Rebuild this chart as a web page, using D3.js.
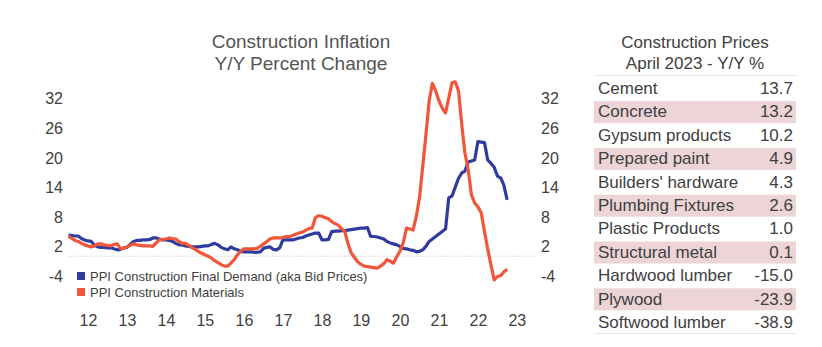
<!DOCTYPE html>
<html>
<head>
<meta charset="utf-8">
<script src="https://cdn.jsdelivr.net/npm/d3@7"></script>
<style>
  body { margin: 0; background: #fff; }
  svg { font-family: "Liberation Sans", Arial, sans-serif; }
</style>
</head>
<body>
<div id="chart"></div>
<script>
// chart data: monthly Y/Y % change, Jan 2012 .. Apr 2023
var startMonth = new Date(2012, 0, 1);

var finalDemand = [
  4.3, 4.2, 4.1, 4.1, 3.6, 3.3, 3.1, 3.0, 2.2, 1.9, 1.8, 1.8,
  1.7, 1.7, 1.5, 1.3, 1.4, 1.7, 1.8, 2.4, 3.0, 3.2, 3.2, 3.3,
  3.3, 3.4, 3.7, 3.7, 3.5, 3.3, 3.3, 3.2, 3.0, 2.6, 2.3, 2.3,
  2.1, 2.0, 1.9, 1.9, 1.9, 2.0, 2.1, 2.1, 2.4, 2.6, 2.3, 1.8,
  1.5, 1.3, 1.9, 1.5, 1.3, 1.0, 0.9, 0.9, 0.9, 0.8, 0.8, 0.9,
  1.6, 1.8, 1.9, 1.4, 1.3, 1.7, 3.3, 3.3, 3.3, 3.3, 3.5, 3.7,
  3.8, 4.1, 4.3, 4.5, 4.7, 4.7, 3.3, 3.3, 3.4, 5.0, 5.1, 5.1,
  5.2, 5.2, 5.3, 5.4, 5.5, 5.6, 5.7, 5.7, 5.8, 4.0, 4.0, 3.9,
  3.7, 3.5, 3.0, 2.7, 2.5, 2.3, 2.0, 1.6, 1.5, 1.3, 1.2, 0.9,
  1.0, 1.3, 2.0, 3.0, 3.5, 4.0, 4.5, 5.0, 5.5, 11.8, 12.2, 14.0,
  15.8, 16.9, 17.2, 19.1, 19.3, 19.5, 23.2, 23.1, 23.0, 19.5, 18.8, 18.0,
  16.2, 15.8, 14.4, 11.4
];

var materials = [
  4.0, 3.6, 3.2, 3.0, 2.6, 2.3, 2.1, 1.9, 2.1, 2.5, 2.5, 2.3,
  2.2, 2.1, 2.4, 2.5, 1.6, 1.6, 1.9, 2.2, 2.5, 2.3, 2.2, 2.1,
  2.1, 2.1, 2.0, 2.7, 3.3, 3.4, 3.5, 3.7, 3.6, 3.5, 3.0, 2.6,
  2.6, 2.2, 1.8, 1.4, 1.0, 0.6, 0.3, 0.0, -0.4, -0.9, -1.3, -1.7,
  -2.0, -2.0, -1.4, -0.7, 0.3, 1.0, 1.5, 1.5, 1.5, 1.5, 1.6, 2.0,
  2.5, 3.0, 3.5, 3.7, 3.7, 3.7, 3.8, 4.0, 4.0, 4.2, 4.5, 4.7,
  4.9, 5.3, 5.6, 5.7, 7.8, 8.2, 8.1, 7.8, 7.6, 7.0, 6.6, 6.3,
  5.6, 5.0, 2.7, 0.7, -0.2, -1.1, -1.6, -2.0, -2.1, -2.2, -2.3, -2.4,
  -2.0, -1.5, -0.7, -1.0, -1.4, -0.1, 1.0, 2.7, 5.7, 5.5, 5.3, 8.0,
  12.0, 18.5, 24.5, 31.5, 35.0, 33.5, 31.5, 30.0, 29.0, 32.0, 35.1, 35.3,
  33.5, 26.5, 21.0, 17.5, 12.5, 10.8, 10.0, 8.8, 5.0, 1.5, -1.8, -4.8,
  -4.1, -3.9, -3.2, -2.6
];

var seriesNames = ['PPI Construction Final Demand (aka Bid Prices)', 'PPI Construction Materials'];
var yTicks = [-4, 2, 8, 14, 20, 26, 32];
var xYears = [2012, 2013, 2014, 2015, 2016, 2017, 2018, 2019, 2020, 2021, 2022, 2023];

// table data
var tableTitle = ['Construction Prices', 'April 2023 - Y/Y %'];
var itemNames = ['Cement', 'Concrete', 'Gypsum products', 'Prepared paint', "Builders' hardware",
  'Plumbing Fixtures', 'Plastic Products', 'Structural metal', 'Hardwood lumber', 'Plywood', 'Softwood lumber'];
var itemValues = [13.7, 13.2, 10.2, 4.9, 4.3, 2.6, 1.0, 0.1, -15.0, -23.9, -38.9];

// svg size
var svgWidth = 822;
var svgHeight = 347;

var blue = '#2f3c9e';
var red = '#f2553a';
var textColor = '#404040';

var svg = d3.select('#chart')
  .append('svg')
  .attr('width', svgWidth)
  .attr('height', svgHeight);

svg.append('rect')
  .attr('width', svgWidth)
  .attr('height', svgHeight)
  .attr('fill', '#fff');

// scales
var xScale = d3.scaleTime()
  .domain([new Date(2012, 0, 1), new Date(2024, 0, 1)])
  .range([68.5, 536.5]);

var yScale = d3.scaleLinear()
  .domain([-4, 32])
  .range([276, 98.2]);

// title
svg.append('text')
  .attr('x', 301)
  .attr('y', 48)
  .attr('text-anchor', 'middle')
  .style('font-size', '19px')
  .style('fill', '#555')
  .text('Construction Inflation');

svg.append('text')
  .attr('x', 301)
  .attr('y', 70)
  .attr('text-anchor', 'middle')
  .style('font-size', '19px')
  .style('fill', '#555')
  .text('Y/Y Percent Change');

// zero line
svg.append('line')
  .attr('x1', xScale.range()[0])
  .attr('x2', xScale.range()[1])
  .attr('y1', yScale(0))
  .attr('y2', yScale(0))
  .attr('stroke', '#bbb')
  .attr('stroke-width', 1)
  .attr('stroke-dasharray', '1,2');

// left and right axes (plain hyphen for negatives)
var leftAxis = d3.axisLeft(yScale).tickValues(yTicks).tickFormat(String).tickSize(0).tickPadding(0);
var rightAxis = d3.axisRight(yScale).tickValues(yTicks).tickFormat(String).tickSize(0).tickPadding(0);

var gLeft = svg.append('g')
  .attr('transform', 'translate(63, 0)')
  .call(leftAxis);

var gRight = svg.append('g')
  .attr('transform', 'translate(541, 0)')
  .call(rightAxis);

// bottom axis, labels in the middle of each year
var bottomAxis = d3.axisBottom(xScale)
  .tickValues(xYears.map(function(y) { return new Date(y, 6, 1); }))
  .tickFormat(d3.timeFormat('%y'))
  .tickSize(0)
  .tickPadding(0);

var gBottom = svg.append('g')
  .attr('transform', 'translate(0, 314)')
  .call(bottomAxis);

[gLeft, gRight, gBottom].forEach(function(g) {
  g.select('.domain').remove();
  g.selectAll('text')
    .style('font-size', '16px')
    .style('font-family', '"Liberation Sans", Arial, sans-serif')
    .style('fill', textColor);
});
gLeft.selectAll('text').attr('dy', '0.35em');
gRight.selectAll('text').attr('dy', '0.35em');
gBottom.selectAll('text').attr('dy', '0.75em');

// lines
var line = d3.line()
  .x(function(d, i) { return xScale(d3.timeMonth.offset(startMonth, i)); })
  .y(function(d) { return yScale(d); });

svg.append('path')
  .datum(finalDemand)
  .attr('d', line)
  .attr('fill', 'none')
  .attr('stroke', blue)
  .attr('stroke-width', 3.2)
  .attr('stroke-linejoin', 'round');

svg.append('path')
  .datum(materials)
  .attr('d', line)
  .attr('fill', 'none')
  .attr('stroke', red)
  .attr('stroke-width', 3.2)
  .attr('stroke-linejoin', 'round');

// legend
var legend = svg.selectAll('.legend')
  .data(seriesNames)
  .enter()
  .append('g')
  .attr('class', 'legend')
  .attr('transform', function(d, i) { return 'translate(77, ' + (272 + i * 16) + ')'; });

legend.append('rect')
  .attr('width', 8)
  .attr('height', 8)
  .attr('fill', function(d, i) { return i === 0 ? blue : red; });

legend.append('text')
  .attr('x', 13)
  .attr('y', 9)
  .style('font-size', '13px')
  .style('fill', textColor)
  .text(function(d) { return d; });

// table on the right
var tableLeft = 594;
var tableRight = 796;
var rowTop = 77;
var rowH = 23.4;

svg.selectAll('.ttitle')
  .data(tableTitle)
  .enter()
  .append('text')
  .attr('x', 695)
  .attr('y', function(d, i) { return 48 + i * 21; })
  .attr('text-anchor', 'middle')
  .style('font-size', '17px')
  .style('fill', textColor)
  .text(function(d) { return d; });

svg.append('line')
  .attr('x1', tableLeft).attr('x2', tableRight)
  .attr('y1', 75.5).attr('y2', 75.5)
  .attr('stroke', '#e6e6e6');

svg.append('line')
  .attr('x1', tableLeft).attr('x2', tableRight)
  .attr('y1', 333.5).attr('y2', 333.5)
  .attr('stroke', '#e6e6e6');

var rows = svg.selectAll('.row')
  .data(itemNames)
  .enter()
  .append('g')
  .attr('class', 'row')
  .attr('transform', function(d, i) { return 'translate(0, ' + (rowTop + i * rowH) + ')'; });

rows.filter(function(d, i) { return i % 2 === 1; })
  .append('rect')
  .attr('x', tableLeft)
  .attr('y', 0.7)
  .attr('width', tableRight - tableLeft)
  .attr('height', 22)
  .attr('fill', '#ecd4d7');

rows.append('text')
  .attr('x', 598)
  .attr('y', 17)
  .style('font-size', '17px')
  .style('fill', textColor)
  .text(function(d) { return d; });

rows.append('text')
  .attr('x', 793)
  .attr('y', 17)
  .attr('text-anchor', 'end')
  .style('font-size', '17px')
  .style('fill', textColor)
  .text(function(d, i) { return itemValues[i].toFixed(1); });
</script>
</body>
</html>
